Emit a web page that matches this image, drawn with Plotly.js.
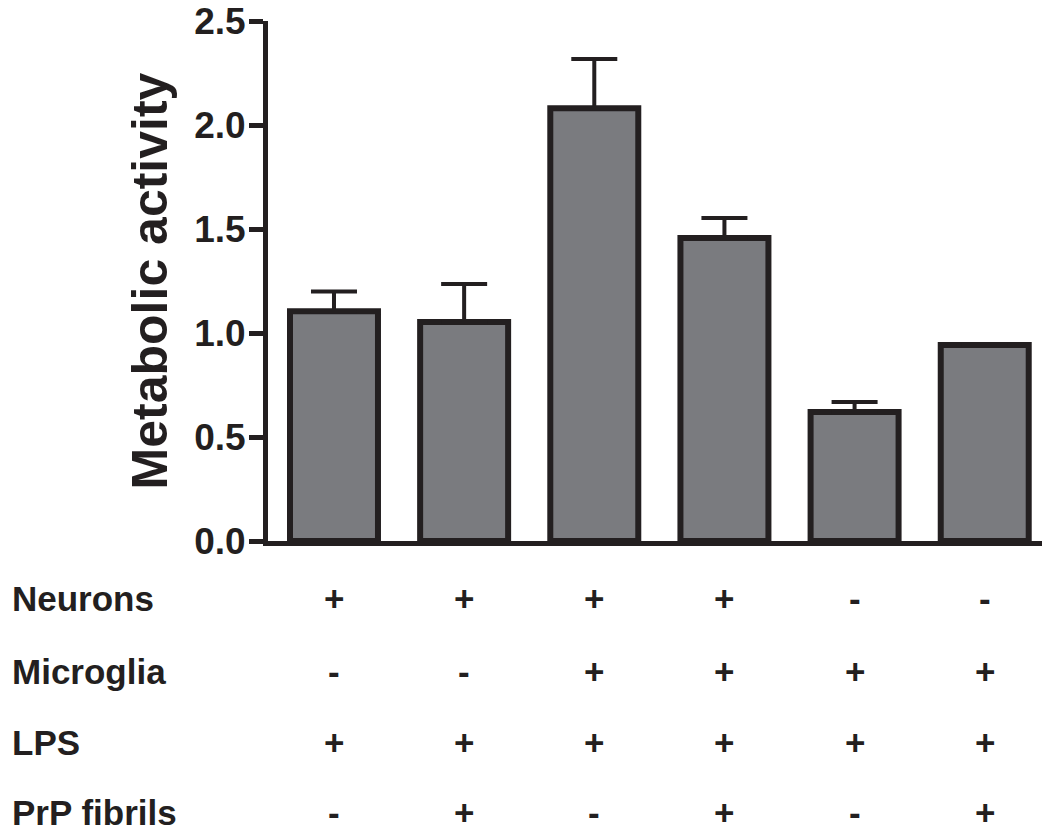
<!DOCTYPE html>
<html>
<head>
<meta charset="utf-8">
<script src="https://cdn.plot.ly/plotly-3.0.1.min.js"></script>
<style>
html,body{margin:0;padding:0;background:#fff;}
#chart{width:1042px;height:839px;}
</style>
</head>
<body>
<div id="chart"></div>
<script>
// ---- data ----
const conditions = [0, 1, 2, 3, 4, 5];
const metabolicActivity = [1.105, 1.053, 2.08, 1.457, 0.62, 0.942];
const errorUp = [0.095, 0.183, 0.237, 0.096, 0.048, 0];
const rowLabels = ['Neurons', 'Microglia', 'LPS', 'PrP fibrils'];
const neurons   = ['+', '+', '+', '+', '-', '-'];
const microglia = ['-', '-', '+', '+', '+', '+'];
const lps       = ['+', '+', '+', '+', '+', '+'];
const prpFibrils = ['-', '+', '-', '+', '-', '+'];
const yTitle = 'Metabolic activity';
const yTicks = [0, 0.5, 1.0, 1.5, 2.0, 2.5];

// ---- style ----
const ink = '#231f20';
const barFill = '#7a7b7f';
const fontFam = 'Liberation Sans, Arial, Helvetica, sans-serif';
const rows = [neurons, microglia, lps, prpFibrils];
const rowY = [-0.110, -0.250, -0.387, -0.522];

const annotations = [];
rows.forEach((row, r) => {
  annotations.push({
    xref: 'paper', yref: 'paper', x: -0.333, y: rowY[r],
    xanchor: 'left', yanchor: 'middle', showarrow: false,
    text: rowLabels[r],
    font: {family: fontFam, size: 35, color: ink, weight: 'bold'}
  });
  row.forEach((s, i) => {
    annotations.push({
      xref: 'x', yref: 'paper', x: conditions[i], y: rowY[r],
      xanchor: 'center', yanchor: 'middle', showarrow: false,
      text: s,
      font: {family: fontFam, size: 35, color: ink, weight: 'bold'}
    });
  });
});

const trace = {
  type: 'bar',
  x: conditions,
  y: metabolicActivity,
  width: 0.676,
  marker: {color: barFill, line: {color: ink, width: 6}},
  error_y: {
    type: 'data', symmetric: false,
    array: errorUp, arrayminus: errorUp.map(() => 0),
    color: ink, thickness: 4, width: 23
  },
  hoverinfo: 'skip'
};

const layout = {
  width: 1042, height: 839,
  margin: {l: 268, r: 0, t: 21, b: 298},
  paper_bgcolor: '#fff', plot_bgcolor: '#fff',
  showlegend: false,
  bargap: 0,
  xaxis: {
    range: [-0.507, 5.44],
    showgrid: false, zeroline: false,
    showline: true, linecolor: ink, linewidth: 5,
    ticks: '', showticklabels: false,
    fixedrange: true
  },
  yaxis: {
    range: [0, 2.5],
    tickvals: yTicks,
    tickformat: '.1f',
    showgrid: false, zeroline: false,
    showline: true, linecolor: ink, linewidth: 5,
    ticks: 'outside', ticklen: 14, tickwidth: 5, tickcolor: ink,
    ticklabelstandoff: -4,
    tickfont: {family: fontFam, size: 37, color: ink, weight: 'bold'},
    title: {text: yTitle, standoff: 12,
            font: {family: fontFam, size: 50, color: ink, weight: 'bold'}},
    fixedrange: true
  },
  annotations: annotations
};

Plotly.newPlot('chart', [trace], layout, {staticPlot: true, displayModeBar: false});
</script>
</body>
</html>
